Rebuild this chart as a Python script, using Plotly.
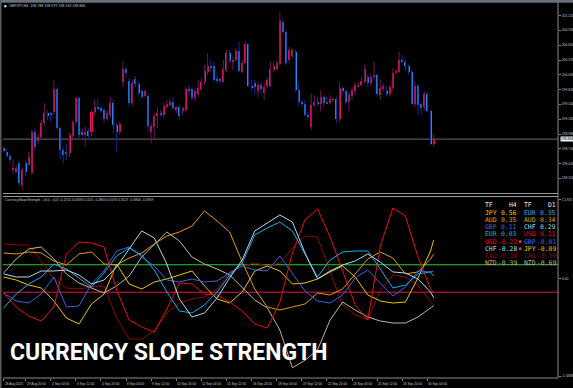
import plotly.graph_objects as go

# ---------------- DATA ----------------
# GBPJPY H4 candles (bar 0 = 28 Aug 16:00 ... bar 137 = 30 Sep 12:00)
bar_open = [198.71, 198.65, 198.57, 198.30, 198.27, 198.43, 198.02, 198.43, 198.40, 198.24,
            199.02, 198.84, 198.93, 199.18, 199.38, 199.37, 199.40, 199.82, 199.09, 198.68,
            198.65, 198.62, 198.94, 199.21, 199.65, 199.02, 198.96, 199.04, 199.02, 199.40,
            199.49, 199.46, 199.43, 199.27, 199.34, 199.57, 199.15, 199.01, 199.95, 200.20,
            199.97, 199.56, 200.01, 199.92, 199.78, 199.69, 199.69, 199.01, 199.12, 199.31,
            199.38, 199.34, 199.49, 199.53, 199.59, 199.43, 199.48, 199.42, 199.43, 199.82,
            199.82, 199.65, 199.74, 199.82, 199.95, 200.15, 200.26, 200.26, 200.01, 200.00,
            199.96, 200.18, 200.51, 200.34, 200.37, 200.55, 200.15, 200.31, 200.67, 199.88,
            199.93, 199.79, 199.90, 199.76, 199.88, 199.88, 200.18, 200.20, 200.30, 201.09,
            200.90, 200.38, 200.45, 200.53, 199.81, 199.59, 199.54, 199.34, 199.11, 199.53,
            199.59, 199.54, 199.68, 199.56, 199.56, 199.62, 199.63, 199.26, 199.84, 199.78,
            199.59, 199.69, 199.78, 199.88, 199.90, 199.96, 200.06, 199.93, 200.06, 200.09,
            199.71, 199.82, 199.78, 199.74, 199.84, 200.13, 200.15, 200.37, 200.34, 200.25,
            200.15, 199.54, 199.88, 199.54, 199.48, 199.74, 199.42, 198.788]
bar_high = [198.74, 198.69, 198.60, 198.49, 198.40, 198.46, 198.34, 198.49, 198.65, 199.06,
            199.09, 198.99, 199.24, 199.56, 199.43, 199.40, 200.00, 199.86, 199.12, 198.74,
            198.80, 199.01, 199.24, 199.68, 199.68, 199.09, 199.12, 199.09, 199.43, 199.62,
            199.65, 199.51, 199.48, 199.43, 199.68, 199.62, 199.18, 199.21, 200.35, 200.25,
            200.03, 200.00, 200.06, 199.96, 199.82, 199.81, 199.74, 199.18, 199.37, 199.49,
            199.43, 199.56, 199.62, 199.65, 199.68, 199.51, 199.53, 199.49, 199.87, 199.90,
            199.86, 199.84, 200.00, 200.03, 200.28, 200.50, 200.37, 200.34, 200.09, 200.05,
            200.37, 200.56, 200.56, 200.43, 200.59, 200.72, 200.37, 200.72, 200.68, 200.00,
            200.00, 199.96, 199.95, 199.93, 200.05, 200.34, 200.34, 200.37, 201.28, 201.15,
            200.94, 200.62, 200.59, 200.56, 199.93, 199.63, 199.62, 199.40, 199.74, 199.71,
            199.68, 199.81, 199.71, 199.68, 199.71, 199.67, 199.68, 199.96, 199.88, 199.82,
            199.78, 199.86, 199.95, 199.96, 200.06, 200.28, 200.11, 200.11, 200.34, 200.12,
            200.00, 199.93, 199.88, 199.90, 200.21, 200.20, 200.53, 200.47, 200.38, 200.28,
            200.18, 199.96, 199.93, 199.59, 199.78, 199.78, 199.43, 198.979]
bar_low = [198.63, 198.54, 198.43, 198.24, 198.24, 197.99, 197.93, 198.18, 198.37, 198.21,
           198.65, 198.79, 198.87, 199.13, 199.24, 199.21, 199.34, 199.06, 198.50, 198.43,
           198.49, 198.55, 198.87, 199.15, 198.88, 198.92, 198.74, 198.88, 198.93, 199.31,
           199.42, 199.38, 199.18, 199.23, 199.29, 198.99, 198.65, 198.96, 199.87, 200.03,
           199.49, 199.51, 199.87, 199.71, 199.63, 199.67, 199.02, 198.80, 198.87, 199.09,
           199.31, 199.29, 199.46, 199.49, 199.43, 199.37, 199.26, 199.34, 199.40, 199.71,
           199.62, 199.59, 199.68, 199.78, 199.90, 200.09, 200.15, 199.96, 199.93, 199.93,
           199.95, 200.15, 200.31, 200.18, 200.34, 200.15, 200.12, 200.28, 199.86, 199.78,
           199.71, 199.68, 199.74, 199.62, 199.84, 199.86, 200.15, 200.17, 200.26, 200.87,
           200.28, 200.31, 200.40, 199.78, 199.51, 199.49, 199.31, 199.26, 199.06, 199.49,
           199.51, 199.40, 199.49, 199.54, 199.53, 199.59, 199.18, 199.21, 199.74, 199.53,
           199.40, 199.62, 199.71, 199.86, 199.87, 199.93, 199.87, 199.88, 200.00, 199.68,
           199.62, 199.79, 199.68, 199.68, 199.79, 200.11, 200.13, 200.31, 200.18, 200.09,
           199.53, 199.49, 199.34, 199.34, 199.43, 199.40, 198.77, 198.743]
bar_close = [198.67, 198.57, 198.50, 198.34, 198.34, 198.05, 198.30, 198.27, 198.55, 199.02,
             198.74, 198.93, 199.19, 199.37, 199.31, 199.34, 199.82, 199.09, 198.68, 198.59,
             198.60, 198.96, 199.21, 199.65, 198.96, 198.96, 199.02, 198.94, 199.40, 199.49,
             199.46, 199.43, 199.27, 199.37, 199.57, 199.15, 199.01, 199.17, 200.20, 200.12,
             199.56, 199.93, 199.92, 199.76, 199.68, 199.78, 199.13, 199.13, 199.31, 199.37,
             199.34, 199.51, 199.54, 199.59, 199.46, 199.48, 199.32, 199.46, 199.82, 199.78,
             199.65, 199.78, 199.84, 199.96, 200.16, 200.25, 200.23, 200.00, 199.98, 199.98,
             200.20, 200.51, 200.35, 200.38, 200.55, 200.17, 200.31, 200.67, 199.88, 199.86,
             199.87, 199.90, 199.82, 199.87, 200.00, 200.20, 200.25, 200.31, 201.10, 200.90,
             200.31, 200.56, 200.56, 199.81, 199.59, 199.54, 199.34, 199.31, 199.53, 199.59,
             199.54, 199.68, 199.56, 199.59, 199.64, 199.63, 199.26, 199.84, 199.79, 199.59,
             199.71, 199.81, 199.90, 199.91, 199.98, 200.20, 199.93, 200.06, 200.09, 199.73,
             199.84, 199.88, 199.74, 199.86, 200.13, 200.15, 200.37, 200.34, 200.25, 200.15,
             199.54, 199.88, 199.53, 199.46, 199.74, 199.42, 198.79, 198.884]

last_price = 198.884
price_ticks = [201.210, 200.930, 200.650, 200.370, 200.090, 199.820, 199.540,
               199.260, 198.980, 198.700, 198.420, 198.150, 197.870]

time_labels = ["28 Aug 2025", "29 Aug 20:00", "2 Sep 04:00", "3 Sep 12:00", "4 Sep 20:00",
               "8 Sep 04:00", "9 Sep 12:00", "10 Sep 20:00", "12 Sep 04:00", "15 Sep 12:00",
               "16 Sep 20:00", "18 Sep 04:00", "19 Sep 12:00", "22 Sep 20:00", "24 Sep 04:00",
               "25 Sep 12:00", "26 Sep 20:00", "30 Sep 04:00"]
time_index = [0, 7, 15, 23, 31, 39, 47, 55, 63, 71, 79, 87, 95, 103, 111, 119, 127, 135]

# Currency Slope Strength values (every 4th bar + last bar)
ind_index = list(range(0, 137, 4)) + [137]
usd = [-0.211, -0.415, -0.546, -0.619, -0.415, 0.357, 0.531, 0.517, 0.459, -0.167, -0.604, -0.706,
       -0.779, -0.444, -0.066, -0.080, -0.226, -0.240, -0.342, -0.473, -0.662, -0.721, -0.342, 0.371,
       0.852, 1.012, 0.604, 0.124, -0.386, -0.604, 0.473, 1.026, 0.910, 0.313, -0.150, -0.2155]
eur = [-0.429, -0.226, -0.080, 0.022, 0.211, 0.138, 0.007, -0.124, 0.080, 0.328, 0.444, 0.342,
       0.124, -0.197, -0.473, -0.502, -0.386, -0.197, 0.051, 0.226, 0.633, 0.735, 0.822, 0.691,
       0.357, 0.022, 0.269, 0.386, 0.400, 0.400, 0.138, -0.138, -0.095, 0.066, 0.095, 0.0338]
gbp = [-0.211, -0.328, -0.357, -0.226, 0.022, -0.415, -0.400, -0.080, 0.109, 0.400, 0.459, 0.313,
       0.182, -0.022, -0.051, -0.007, -0.051, -0.036, 0.080, 0.182, 0.124, 0.109, 0.328, 0.080,
       -0.182, -0.328, -0.357, -0.240, 0.007, 0.124, -0.066, -0.255, -0.124, 0.109, 0.095, 0.1101]
chf = [0.066, 0.022, 0.022, 0.109, 0.109, 0.124, 0.051, -0.080, -0.022, 0.167, 0.429, 0.691,
       0.590, 0.211, -0.298, -0.560, -0.502, -0.284, 0.007, 0.269, 0.691, 0.808, 0.924, 0.822,
       0.371, -0.007, 0.109, 0.197, 0.255, 0.357, 0.240, 0.095, 0.080, -0.007, -0.197, -0.2804]
jpy = [0.022, -0.022, -0.095, -0.138, -0.328, -0.575, -0.662, -0.371, -0.226, 0.211, -0.080, -0.153,
       -0.051, -0.007, 0.051, 0.109, -0.109, -0.298, -0.357, -0.197, 0.109, 0.182, 0.109, -0.080,
       -0.066, -0.007, 0.095, 0.182, 0.022, -0.240, -0.328, -0.357, -0.342, 0.007, 0.400, 0.5576]
aud = [0.371, 0.357, 0.386, 0.371, 0.255, 0.197, 0.357, 0.386, 0.211, 0.197, 0.298, 0.371,
       0.502, 0.619, 0.677, 0.764, 0.983, 0.837, 0.677, 0.240, -0.153, -0.415, -0.459, -0.415,
       -0.371, -0.211, -0.240, -0.153, 0.066, 0.284, 0.386, 0.298, 0.066, 0.095, 0.284, 0.3527]
cad = [0.502, 0.488, 0.488, 0.255, -0.007, -0.138, -0.153, -0.124, -0.109, -0.575, -0.881, -0.881,
       -0.764, -0.502, -0.357, -0.298, -0.269, -0.153, 0.095, 0.182, 0.226, 0.182, 0.226, 0.444,
       0.619, 0.604, 0.095, -0.386, -0.531, -0.604, -0.167, 0.051, 0.022, -0.095, -0.342, -0.3846]
nzd = [0.080, 0.284, 0.429, 0.459, 0.284, 0.066, -0.066, -0.138, -0.211, -0.109, 0.036, 0.313,
       0.502, 0.677, 0.546, 0.313, 0.211, 0.138, 0.051, -0.124, -0.313, -0.429, -0.750, -1.300,
       -1.190, -1.041, -0.604, -0.342, -0.459, -0.560, -0.619, -0.648, -0.648, -0.560, -0.429, -0.3949]

level_up = 0.2
level_dn = -0.2
ind_range = [-1.4483, 1.186]
ind_tick_vals = [1.15, 0.0, -1.42]
ind_tick_text = ["1.5705", "0.00", "-1.4483"]

table_h4_names = ["JPY", "AUD", "GBP", "EUR", "USD", "CHF", "CAD", "NZD"]
table_h4_vals = ["0.56", "0.35", "0.11", "0.03", "-0.22", "-0.28", "-0.38", "-0.39"]
table_d1_names = ["EUR", "AUD", "CHF", "USD", "GBP", "JPY", "CAD", "NZD"]
table_d1_vals = ["0.35", "0.34", "0.29", "0.11", "-0.01", "-0.09", "-0.30", "-0.69"]
flagged_rows = [4, 5]

chart_title = "GBPJPY,H4  198.788 198.979 198.743 198.884"
ind_title = "CurrencySlopeStrength - v3.0 - s(2) -0.2155 0.0338 0.1101 -0.2804 0.5576 0.3527 -0.3846 -0.3949"
banner = "CURRENCY SLOPE STRENGTH"

# ---------------- STYLE ----------------
colors = {"USD": "#e61010", "EUR": "#1ea8ea", "GBP": "#3c64e0", "CHF": "#a8dcea",
          "JPY": "#f2c400", "AUD": "#e49a0a", "CAD": "#8c0808", "NZD": "#c8b496"}
BULL_BODY, BEAR_BODY = "#e8145a", "#1e90ff"
BULL_WICK, BEAR_WICK = "#6e145a", "#1c2890"
AXIS_GRAY = "#8a8a8a"
TXT = "#c8c8c8"

W, H = 573, 388
ML, MR, MT, MB = 3, 15, 3, 10
PW, PH = W - ML - MR, H - MT - MB


def px(x):
    return (x - ML) / PW


def py(y):
    return (H - MB - y) / PH


fig = go.Figure()

# candles
n = len(bar_open)
idx = list(range(n))
is_up = [c >= o for o, c in zip(bar_open, bar_close)]
for flag, wc in ((True, BULL_WICK), (False, BEAR_WICK)):
    wx, wy = [], []
    for i in idx:
        if is_up[i] == flag:
            wx += [i, i, None]
            wy += [bar_low[i], bar_high[i], None]
    fig.add_trace(go.Scatter(x=wx, y=wy, mode="lines", line=dict(color=wc, width=1),
                             xaxis="x", yaxis="y", hoverinfo="skip"))
fig.add_trace(go.Bar(x=idx, y=[max(abs(c - o), 0.012) for o, c in zip(bar_open, bar_close)],
                     base=[min(o, c) for o, c in zip(bar_open, bar_close)], width=0.64,
                     marker=dict(color=[BULL_BODY if u else BEAR_BODY for u in is_up], line=dict(width=0)),
                     xaxis="x", yaxis="y", hoverinfo="skip"))

# indicator lines
series = {"CAD": cad, "NZD": nzd, "AUD": aud, "JPY": jpy, "GBP": gbp, "USD": usd, "EUR": eur, "CHF": chf}
for name, vals in series.items():
    fig.add_trace(go.Scatter(x=ind_index, y=vals, mode="lines", line=dict(color=colors[name], width=1),
                             xaxis="x2", yaxis="y2", hoverinfo="skip"))

xr = [-0.19, 176.6]
fig.update_layout(
    width=W, height=H, margin=dict(l=ML, r=MR, t=MT, b=MB, autoexpand=False),
    paper_bgcolor="black", plot_bgcolor="black", showlegend=False, bargap=0,
    xaxis=dict(domain=[0, 1], range=xr, anchor="y", showgrid=False, zeroline=False,
               showticklabels=False, ticks=""),
    xaxis2=dict(domain=[0, 1], range=xr, matches="x", anchor="y2", showgrid=False, zeroline=False,
                showticklabels=False, ticks="outside", ticklen=2, tickcolor=AXIS_GRAY, tickwidth=1,
                tickvals=time_index),
    yaxis=dict(domain=[py(193), 1], range=[197.871, 201.443], side="right", anchor="x",
               showgrid=False, zeroline=False, tickvals=price_ticks, tickformat=".3f",
               ticks="outside", ticklen=2, tickcolor=AXIS_GRAY,
               tickfont=dict(size=3.4, color=TXT, family="Liberation Sans")),
    yaxis2=dict(domain=[0, py(197)], range=ind_range, side="right", anchor="x2",
                showgrid=False, zeroline=False, tickvals=ind_tick_vals, ticktext=ind_tick_text,
                ticks="outside", ticklen=2, tickcolor=AXIS_GRAY,
                tickfont=dict(size=3.4, color=TXT, family="Liberation Sans")),
)

shapes = []
# window frame
shapes.append(dict(type="rect", xref="paper", yref="paper", x0=px(-1), x1=px(W + 1), y0=py(2.7), y1=py(-1),
                   fillcolor="#66707a", line=dict(width=0), layer="above"))
shapes.append(dict(type="rect", xref="paper", yref="paper", x0=px(-1), x1=px(1.5), y0=py(H + 1), y1=py(0),
                   fillcolor="#5c5c5c", line=dict(width=0), layer="above"))
# right axis line
shapes.append(dict(type="line", xref="paper", yref="paper", x0=1, x1=1, y0=0, y1=py(2.7),
                   line=dict(color=AXIS_GRAY, width=1), layer="above"))
# panel separator and bottom axis line
for yy in (193.5, 196.5):
    shapes.append(dict(type="line", xref="paper", yref="paper", x0=0, x1=1, y0=py(yy), y1=py(yy),
                       line=dict(color="#9a9a9a", width=1), layer="above"))
shapes.append(dict(type="line", xref="paper", yref="paper", x0=0, x1=1, y0=0, y1=0,
                   line=dict(color=AXIS_GRAY, width=1), layer="above"))
# bid line
shapes.append(dict(type="line", xref="x domain", yref="y", x0=0, x1=1, y0=last_price, y1=last_price,
                   line=dict(color="#6a6a6a", width=1), layer="below"))
# indicator levels
shapes.append(dict(type="line", xref="x2 domain", yref="y2", x0=0, x1=1, y0=level_up, y1=level_up,
                   line=dict(color="#2ccc2c", width=1), layer="below"))
shapes.append(dict(type="line", xref="x2 domain", yref="y2", x0=0, x1=1, y0=level_dn, y1=level_dn,
                   line=dict(color="#e0143c", width=1), layer="below"))
# title square
shapes.append(dict(type="rect", xref="paper", yref="paper", x0=px(4.2), x1=px(6.4), y0=py(7.3), y1=py(5.1),
                   fillcolor="#e0e0e0", line=dict(width=0), layer="above"))
# flagged rows dots
row_y = [212.8, 220.0, 227.2, 234.4, 241.6, 248.8, 256.0, 263.2]
for r in flagged_rows:
    shapes.append(dict(type="circle", xref="paper", yref="paper", x0=px(518.6), x1=px(521.6),
                       y0=py(row_y[r] + 1.5), y1=py(row_y[r] - 1.5),
                       fillcolor="#ff1e50", line=dict(width=0), layer="above"))

ann = []


def text(x, y, s, size, color, anchor="left", family="Liberation Sans", xref="paper", bg=None, bold=False):
    d = dict(x=x, y=y, xref=xref, yref="paper", text=("<b>%s</b>" % s) if bold else s, showarrow=False,
             xanchor=anchor, yanchor="middle", borderpad=0,
             font=dict(size=size, color=color, family=family))
    if bg:
        d["bgcolor"] = bg
    ann.append(d)


text(px(7.5), py(6.3), chart_title, 3.6, TXT)
text(px(3.5), py(199.5), ind_title, 3.4, TXT)
for lab, ti in zip(time_labels, time_index):
    text(ti, py(383.5), lab, 3.2, TXT, xref="x2")
text(px(559.5), py(139.2), "%.3f" % last_price, 3.4, "black", bg="#f0f0f0")

# table
MONO = "DejaVu Sans Mono"
text(px(483.5), py(205.2), "TF", 6.4, "#e6e6e6", family=MONO)
text(px(517.5), py(205.2), "H4", 6.4, "#e6e6e6", anchor="right", family=MONO)
text(px(522.5), py(205.2), "TF", 6.4, "#e6e6e6", family=MONO)
text(px(556.5), py(205.2), "D1", 6.4, "#e6e6e6", anchor="right", family=MONO)
for r in range(len(table_h4_names)):
    c1 = colors[table_h4_names[r]]
    c2 = colors[table_d1_names[r]]
    text(px(483.5), py(row_y[r]), table_h4_names[r], 6.4, c1, family=MONO)
    text(px(517.5), py(row_y[r]), table_h4_vals[r], 6.4, c1, anchor="right", family=MONO)
    text(px(522.5), py(row_y[r]), table_d1_names[r], 6.4, c2, family=MONO)
    text(px(556.5), py(row_y[r]), table_d1_vals[r], 6.4, c2, anchor="right", family=MONO)

# banner
text(px(9), py(352.5), banner, 23, "white", family="Roboto, Open Sans", bold=True)

fig.update_layout(shapes=shapes, annotations=ann)
fig.write_html("out.html")
